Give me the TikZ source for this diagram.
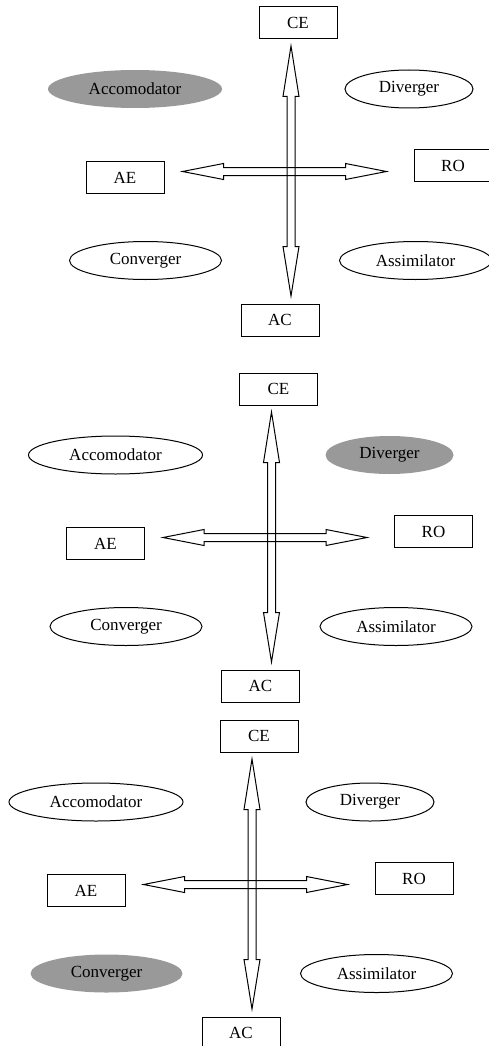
\documentclass[tikz,border=0pt]{standalone}
\usepackage{fontspec}
\setmainfont{Liberation Serif}
\definecolor{kolbgrey}{gray}{0.6}
\tikzset{
  every node/.style={font=\fontsize{17}{20}\selectfont},
  modebox/.style={draw, line width=1pt, rectangle, minimum width=78pt, minimum height=32pt, inner sep=0pt},
  styleell/.style={ellipse, draw, line width=1pt, inner sep=0pt, minimum height=38pt},
  hiell/.style={ellipse, fill=kolbgrey, draw=none, inner sep=0pt, minimum height=38pt},
  bigarrow/.style={draw, line width=1pt, line join=miter}
}
\usetikzlibrary{shapes.geometric}
\newcommand{\kolbpanel}[7]{%
  % #1 prefix, #2 dx, #3 dy, #4-#7 styles for Accomodator, Diverger, Converger, Assimilator
  \begin{scope}[shift={(#2,#3)}]
    \node[modebox] (#1ce) at (298,23) {CE};
    \node[modebox] (#1ae) at (125,177.5) {AE};
    \node[modebox] (#1ro) at (453,165.5) {RO};
    \node[modebox] (#1ac) at (280,320) {AC};
    \node[#4, minimum width=174pt] (#1acc) at (135,89) {Accomodator};
    \node[#5, minimum width=128pt] (#1div) at (409,89) {Diverger};
    \node[#6, minimum width=152pt] (#1con) at (145.5,260.5) {Converger};
    \node[#7, minimum width=152pt] (#1ass) at (415.5,260.5) {Assimilator};
    \coordinate (#1x) at (291,171.5);
    % vertical double arrow
    \draw[bigarrow] (291,46) -- (299,96.5) -- (295,96.5) -- (295,246.5) -- (299,246.5)
      -- (291,296) -- (283,246.5) -- (287,246.5) -- (287,96.5) -- (283,96.5) -- cycle;
    % horizontal double arrow
    \draw[bigarrow] (182.5,171.5) -- (223.5,163.5) -- (223.5,167.5) -- (345.5,167.5) -- (345.5,163.5)
      -- (386.5,171.5) -- (345.5,179.5) -- (345.5,175.5) -- (223.5,175.5) -- (223.5,179.5) -- cycle;
  \end{scope}%
}
\begin{document}
\begin{tikzpicture}[x=1pt,y=-1pt]
  \useasboundingbox (0,0) rectangle (489,1046);
  \kolbpanel{a}{0}{0}{hiell}{styleell}{styleell}{styleell}
  \kolbpanel{b}{-19.5}{366}{styleell}{hiell}{styleell}{styleell}
  \kolbpanel{c}{-39}{713}{styleell}{styleell}{hiell}{styleell}
\end{tikzpicture}
\end{document}
